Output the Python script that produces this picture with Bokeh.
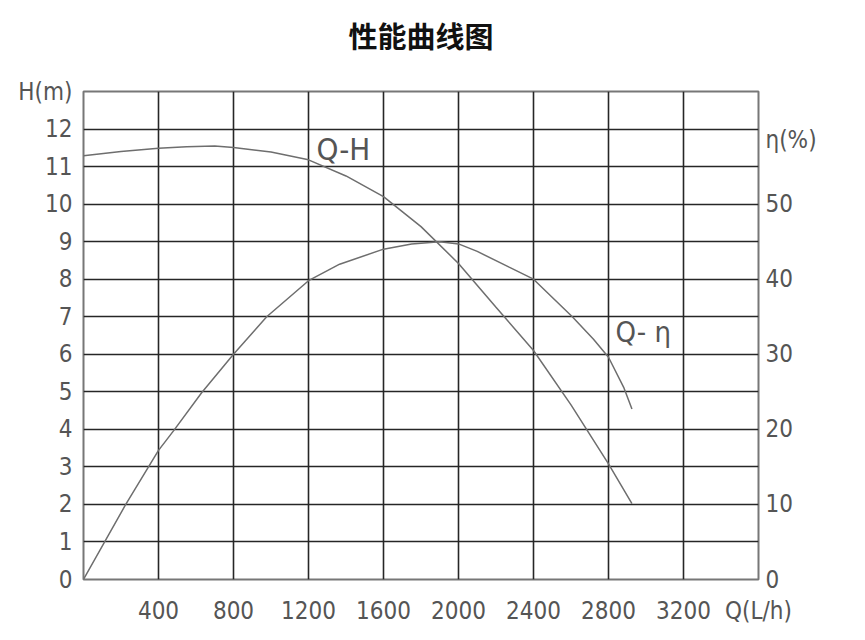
from bokeh.plotting import figure
from bokeh.models import Range1d, LinearAxis, FixedTicker, Label
from bokeh.embed import file_html
from bokeh.resources import INLINE

# ---- data ----
q_h = [0, 200, 400, 550, 700, 800, 1000, 1200, 1400, 1600, 1800, 2000, 2200, 2400, 2600, 2800, 2925]
head = [11.29, 11.40, 11.49, 11.53, 11.55, 11.51, 11.39, 11.18, 10.75, 10.2, 9.4, 8.42, 7.25, 6.1, 4.65, 3.08, 2.02]

q_eta = [0, 223, 400, 480, 631, 800, 977, 1200, 1366, 1600, 1750, 1900, 2000, 2100, 2270, 2400, 2607, 2720, 2800, 2881, 2925]
eta = [0, 9.9, 17.2, 19.8, 24.9, 30.0, 35.0, 39.8, 42.0, 44.0, 44.7, 45.0, 44.7, 43.7, 41.6, 40.0, 35.0, 32.0, 29.6, 25.6, 22.7]

x_ticks = [400, 800, 1200, 1600, 2000, 2400, 2800, 3200]
x_grid = [400, 800, 1200, 1600, 2000, 2400, 2800, 3200]
h_ticks = list(range(0, 14))
eta_ticks = [0, 10, 20, 30, 40, 50]
title_text = "性能曲线图"

FONT = "DejaVu Sans Condensed, Liberation Sans Narrow, sans-serif"
TXT = "#555555"
GRID = "#262626"
CURVE = "#6e6e6e"

p = figure(width=857, height=632, output_backend="svg", toolbar_location=None,
           x_range=Range1d(0, 3600), y_range=Range1d(0, 13),
           min_border_left=83, min_border_right=99, min_border_top=91, min_border_bottom=53,
           x_axis_location=None, y_axis_location=None)
p.extra_y_ranges = {"eta": Range1d(0, 65)}

p.outline_line_color = "#777777"
p.outline_line_width = 2
p.background_fill_color = "white"
p.border_fill_color = "white"

# grid
p.xgrid.ticker = FixedTicker(ticks=x_grid)
p.ygrid.ticker = FixedTicker(ticks=h_ticks)
for g in (p.xgrid, p.ygrid):
    g.grid_line_color = GRID
    g.grid_line_width = 1.6
    g.grid_line_alpha = 1.0

def style_axis(ax, standoff, size="24px"):
    ax.axis_line_color = None
    ax.major_tick_line_color = None
    ax.minor_tick_line_color = None
    ax.major_tick_in = 0
    ax.major_tick_out = 0
    ax.minor_tick_in = 0
    ax.minor_tick_out = 0
    ax.major_label_text_font = FONT
    ax.major_label_text_font_size = size
    ax.major_label_text_color = TXT
    ax.major_label_standoff = standoff

left = LinearAxis(ticker=FixedTicker(ticks=h_ticks),
                  major_label_overrides={13: "H(m)"})
style_axis(left, 11)
p.add_layout(left, "left")

bottom = LinearAxis(ticker=FixedTicker(ticks=x_ticks + [3600]),
                    major_label_overrides={3600: "Q(L/h)"})
style_axis(bottom, 17)
p.add_layout(bottom, "below")

right = LinearAxis(y_range_name="eta", ticker=FixedTicker(ticks=eta_ticks + [58.5]),
                   major_label_overrides={58.5: "η(%)"})
style_axis(right, 7)
p.add_layout(right, "right")

# title carried by an empty top axis
top = LinearAxis(ticker=FixedTicker(ticks=[]), axis_label=title_text)
style_axis(top, 0, size="0px")
top.axis_label_text_font = "Noto Sans CJK SC"
top.axis_label_text_font_size = "29px"
top.axis_label_text_font_style = "bold"
top.axis_label_text_color = "#111111"
top.axis_label_standoff = 36
p.add_layout(top, "above")

# curves
p.line(q_h, head, line_color=CURVE, line_width=1.5)
p.line(q_eta, eta, line_color=CURVE, line_width=1.5, y_range_name="eta")

# curve labels (inside the frame)
p.add_layout(Label(x=1242, y=11.46, text="Q-H", text_font=FONT, text_font_size="31px",
                   text_color=TXT, text_baseline="middle", text_align="left"))
p.add_layout(Label(x=2837, y=6.6, text="Q- η", text_font=FONT, text_font_size="29px",
                   text_color=TXT, text_baseline="middle", text_align="left"))

open("out.html", "w").write(file_html(p, INLINE))
